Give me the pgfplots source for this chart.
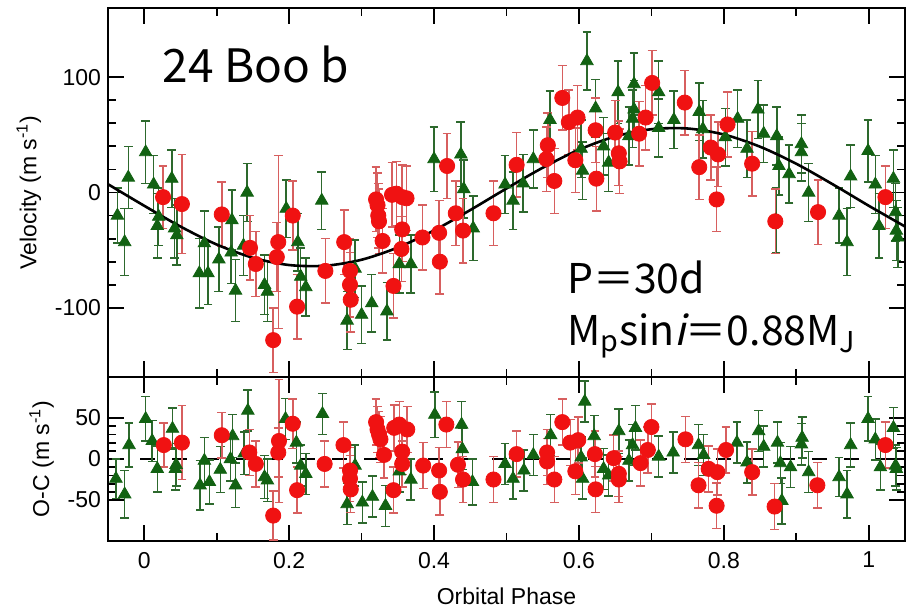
\documentclass[border=0pt]{standalone}
\usepackage{fontspec}
\setmainfont{Liberation Sans}
\newfontfamily\jpfont{Noto Sans CJK JP}
\newfontfamily\jpslant[FakeSlant=0.22]{Noto Sans CJK JP}
\usepackage{pgfplots}
\pgfplotsset{compat=1.18}
\usepackage{pgfplotstable}

\definecolor{ptred}{RGB}{240,18,18}
\definecolor{barred}{RGB}{215,95,95}
\definecolor{ptgreen}{RGB}{18,98,18}
\definecolor{bargreen}{RGB}{45,105,45}

% radial velocities, first instrument (triangles)
\pgfplotstableread{
x y e
-0.037 -20 24
-0.027 -43 29
-0.022 13 27
0.002 35 27
0.013 7 25
0.018 -29 28
0.020 -21 25
0.038 12 25
0.042 -31 26
0.045 -37 26
0.076 -70 30
0.083 -44 28
0.088 -70 27
0.103 -58 28
0.121 -24 26
0.120 -52 27
0.126 -85 27
0.142 0 25
0.137 -46 26
0.166 -80 26
0.170 -86 26
0.196 -14 25
0.212 -43 25
0.216 -73 25
0.223 -82 25
0.245 -7 25
0.280 -111 25
0.291 -66 25
0.300 -106 25
0.314 -96 25
0.335 -103 25
0.352 -62 25
0.368 -62 25
0.400 29 28
0.437 33 28
0.441 3 25
0.454 -31 28
0.498 7 25
0.509 -7 25
0.523 8 25
0.537 29 25
0.560 63 25
0.603 38 25
0.605 19 25
0.611 114 25
0.623 73 25
0.634 40 25
0.641 26 25
0.654 87 27
0.669 49 25
0.674 64 25
0.676 94 27
0.676 72 25
0.710 87 27
0.710 56 25
0.731 63 25
0.766 70 25
0.771 55 25
0.802 48 25
0.819 64 25
0.832 38 25
0.847 72 25
0.855 51 25
0.873 49 25
0.876 23 25
0.872 -24 28
0.890 16 25
0.907 42 25
0.907 35 25
0.917 0 25
0.959 -20 24
0.970 -43 29
0.975 14 27
0.999 36 27
1.009 7 25
1.014 -29 28
1.034 12 25
1.037 -17 25
1.038 -33 26
1.040 -39 26
}\greentop

% radial velocities, second instrument (circles)
\pgfplotstableread{
x y e
0.026 -4 27
0.052 -10 43
0.107 -19 28
0.146 -48 28
0.154 -62 28
0.178 -128 28
0.185 -43 75
0.183 -56 30
0.205 -20 30
0.211 -99 28
0.250 -68 28
0.276 -43 28
0.284 -68 28
0.284 -80 28
0.285 -93 28
0.320 -6 28
0.322 -11 28
0.323 -20 28
0.324 -25 28
0.329 -42 28
0.344 -81 28
0.342 -2 28
0.348 -1 28
0.356 -4 28
0.362 -5 28
0.356 -32 28
0.355 -49 28
0.384 -39 28
0.407 -35 28
0.408 -60 28
0.418 23 28
0.430 -18 28
0.440 -33 28
0.482 -18 28
0.514 24 28
0.555 29 28
0.557 41 28
0.566 10 28
0.577 82 28
0.586 61 28
0.598 65 28
0.595 28 28
0.623 54 28
0.624 12 28
0.650 52 28
0.655 34 28
0.656 27 28
0.683 51 28
0.692 65 28
0.701 95 28
0.746 78 28
0.766 22 28
0.782 39 28
0.792 33 28
0.790 -6 28
0.805 59 28
0.839 25 28
0.871 -25 28
0.930 -17 28
1.023 -4 27
}\redtop

% residuals, first instrument
\pgfplotstableread{
x y e
-0.039 -24 24
-0.027 -43 29
-0.021 17 27
0.002 49 27
0.011 22 25
0.018 -12 28
0.039 37 25
0.044 -7 26
0.043 -12 26
0.077 -32 30
0.083 -2 28
0.090 -28 27
0.105 -13 28
0.122 28 26
0.119 0 27
0.126 -32 27
0.143 59 25
0.138 7 26
0.166 -22 26
0.170 -26 26
0.195 49 25
0.210 20 25
0.216 -8 25
0.223 -18 25
0.246 55 25
0.280 -55 25
0.291 -8 25
0.301 -53 25
0.315 -46 25
0.333 -57 25
0.352 -15 25
0.368 -25 25
0.401 54 28
0.438 42 28
0.439 12 25
0.453 -28 28
0.498 -6 25
0.509 -24 25
0.524 -14 25
0.537 5 25
0.561 29 25
0.603 2 25
0.605 -24 25
0.608 70 25
0.621 28 25
0.634 -12 25
0.641 -20 25
0.655 34 27
0.669 -2 25
0.674 17 25
0.678 38 27
0.710 3 25
0.730 8 25
0.765 17 25
0.772 5 25
0.818 20 25
0.832 -4 25
0.848 34 25
0.855 15 25
0.874 20 25
0.878 -5 25
0.880 -51 28
0.892 -10 25
0.908 26 25
0.907 18 25
0.917 -16 25
0.959 -22 24
0.970 -43 29
0.975 17 27
0.999 49 27
1.009 24 25
1.016 -10 28
1.034 38 25
1.037 -8 25
1.038 -12 26
}\greenres

% residuals, second instrument
\pgfplotstableread{
x y e
0.027 17 27
0.052 20 45
0.107 29 28
0.145 8 28
0.154 -6 28
0.178 -69 30
0.186 22 75
0.185 8 30
0.205 43 30
0.211 -38 28
0.249 -6 28
0.275 17 28
0.284 -14 28
0.284 -24 28
0.285 -37 28
0.320 45 28
0.322 36 28
0.324 30 28
0.326 24 28
0.331 5 28
0.344 -38 28
0.345 38 28
0.352 42 28
0.363 36 28
0.356 9 28
0.356 -6 28
0.385 -8 28
0.407 -14 28
0.408 -40 28
0.417 42 28
0.433 -7 28
0.440 -25 28
0.482 -25 28
0.514 6 28
0.556 8 28
0.556 -3 28
0.566 -25 28
0.577 45 28
0.588 20 28
0.599 23 28
0.595 -15 28
0.622 6 28
0.623 -37 28
0.648 1 28
0.655 -18 28
0.655 -25 28
0.685 -5 28
0.695 11 28
0.700 39 28
0.747 24 28
0.765 -32 28
0.779 -12 28
0.791 -16 28
0.790 -57 28
0.803 11 28
0.839 -16 28
0.870 -58 28
0.929 -32 28
1.023 17 28
}\redres

\pgfplotsset{
  panel/.style={
    scale only axis, width=398.5pt,
    xmin=-0.05, xmax=1.05,
    xtick={0,0.2,0.4,0.6,0.8,1},
    minor x tick num=1,
    tick pos=both, tick align=inside,
    axis line style={line width=1.3pt},
    tick style={line width=0.9pt, black},
    major tick length=8pt, minor tick length=4pt,
    ticklabel style={font=\fontsize{11.5}{13}\selectfont},
    label style={font=\fontsize{11.5}{13}\selectfont},
  },
  tri/.style={only marks, mark=triangle*, mark size=3.6pt, color=ptgreen,
    error bars/.cd, y dir=both, y explicit,
    error bar style={bargreen, line width=0.75pt},
    error mark options={bargreen, line width=0.75pt, mark size=2.2pt, rotate=90}},
  dot/.style={only marks, mark=*, mark size=3.8pt, color=ptred,
    error bars/.cd, y dir=both, y explicit,
    error bar style={barred, line width=0.75pt},
    error mark options={barred, line width=0.75pt, mark size=2.2pt, rotate=90}},
}

\begin{document}
\begin{tikzpicture}
\useasboundingbox (0,0) rectangle (454pt,303.5pt);

% velocity panel
\begin{axis}[panel, at={(54pt,115pt)}, anchor=south west, height=184.5pt,
  ymin=-160, ymax=160, ytick={-100,0,100}, yticklabels={-100,0,100},
  minor y tick num=4, xticklabels={},
  ylabel={Velocity (m s\textsuperscript{-1})}]
\addplot[tri] table[x=x, y=y, y error=e] {\greentop};
\addplot[dot] table[x=x, y=y, y error=e] {\redtop};
\addplot[black, line width=1.3pt, smooth] coordinates {
(-0.05,7.2) (0,-11.5) (0.05,-29.5) (0.1,-45.1) (0.15,-56.6) (0.2,-62.9)
(0.25,-63.5) (0.3,-58.3) (0.35,-47.7) (0.4,-32.9) (0.45,-15.2) (0.5,3.5)
(0.55,21.5) (0.6,37.1) (0.65,48.6) (0.7,54.9) (0.75,55.5) (0.8,50.3)
(0.85,39.7) (0.9,24.9) (0.95,7.2) (1.0,-11.5) (1.05,-29.5)};
\node[anchor=base west, inner sep=0pt, font=\jpfont\fontsize{23}{25}\selectfont]
  at (axis cs:0.025,95) {24 Boo b};
\node[anchor=base west, inner sep=0pt, font=\jpfont\fontsize{20.5}{22}\selectfont]
  at (axis cs:0.583,-87.5) {P＝30d};
\node[anchor=base west, inner sep=0pt, font=\jpfont\fontsize{20.5}{22}\selectfont]
  at (axis cs:0.583,-132.5) {M\textsubscript{p}sin{\jpslant i}＝0.88M\textsubscript{J}};
\end{axis}

% residual panel
\begin{axis}[panel, at={(54pt,33pt)}, anchor=south west, height=82pt,
  ymin=-100, ymax=100, ytick={-50,0,50}, yticklabels={-50,0,50},
  minor y tick num=4,
  xticklabels={0,0.2,0.4,0.6,0.8,1},
  xticklabel style={yshift=-2pt},
  xlabel={Orbital Phase},
  xlabel style={yshift=-3pt},
  ylabel={O-C (m s\textsuperscript{-1})}]
\addplot[black, line width=1.3pt, dash pattern=on 7.5pt off 8.5pt] coordinates {(-0.05,0) (1.05,0)};
\addplot[tri] table[x=x, y=y, y error=e] {\greenres};
\addplot[dot] table[x=x, y=y, y error=e] {\redres};
\end{axis}
\end{tikzpicture}
\end{document}
